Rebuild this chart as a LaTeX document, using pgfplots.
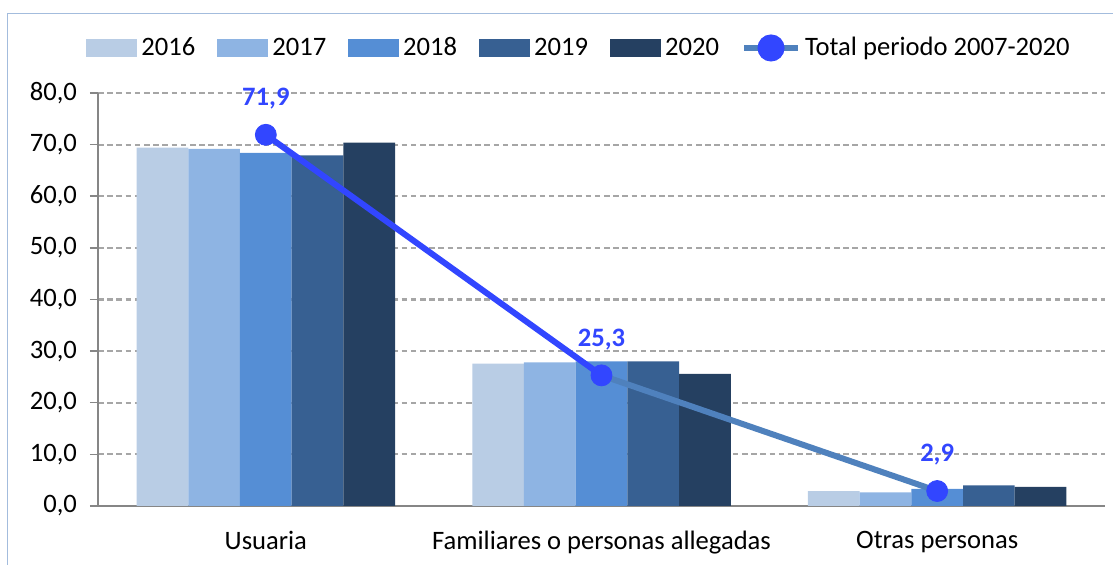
\documentclass[border=0pt]{standalone}
\usepackage{pgfplots}
\pgfplotsset{compat=1.18}
\usepackage{fontspec}
\setmainfont{Carlito}

\definecolor{c2016}{HTML}{B9CDE5}
\definecolor{c2017}{HTML}{8EB4E3}
\definecolor{c2018}{HTML}{558ED5}
\definecolor{c2019}{HTML}{376092}
\definecolor{c2020}{HTML}{254061}
\definecolor{brightblue}{HTML}{3246FF}
\definecolor{steelblue}{HTML}{4F81BD}
\definecolor{framec}{HTML}{A3BCDD}
\definecolor{axisgray}{HTML}{868686}
\definecolor{gridgray}{HTML}{A6A6A6}

\begin{document}
\begin{tikzpicture}
\useasboundingbox (-49pt,-29.5pt) rectangle (507.5pt,253pt);
\draw[framec, line width=0.8pt] (-45.25pt,-29.5pt) -- (-45.25pt,246.25pt) -- (507.5pt,246.25pt);
\begin{axis}[
    at={(0pt,0pt)}, anchor=south west,
    width=503.5pt, height=206.5pt, scale only axis,
    font=\fontsize{13.3}{16}\selectfont,
    xmin=-0.5, xmax=2.5,
    ymin=0, ymax=80,
    ytick={0,10,...,80},
    xtick={0,1,2},
    xticklabels={Usuaria, Familiares o personas allegadas, Otras personas},
    major x tick style={draw=none},
    extra x ticks={-0.5,0.5,1.5,2.5},
    extra x tick labels={},
    extra x tick style={major tick length=4pt, tick style={axisgray, line width=0.75pt}},
    axis x line*=bottom, axis y line*=left,
    axis line style={axisgray, line width=0.75pt},
    tick style={axisgray, line width=0.75pt},
    tick align=outside, major tick length=4pt,
    ymajorgrids,
    grid style={gridgray, line width=1.1pt, dash pattern=on 2.8pt off 1.8pt},
    xticklabel style={yshift=-5pt},
    yticklabel style={xshift=-3pt},
    yticklabel={\pgfmathprintnumber[fixed, fixed zerofill, precision=1, use comma, assume math mode=true]{\tick}},
    ybar=0pt, bar width=25.85pt,
    legend style={at={(0.4787,1.109)}, anchor=center, draw=none, fill=none,
        legend columns=-1, font=\fontsize{13.3}{16}\selectfont,
        /tikz/every even column/.append style={column sep=9pt}},
    legend image code/.code={\fill[#1] (0pt,-4.5pt) rectangle (25.5pt,4.5pt);},
]
\addplot[fill=c2016, draw=none] coordinates {(0,69.4) (1,27.6) (2,2.9)};
\addlegendentry{2016}
\addplot[fill=c2017, draw=none] coordinates {(0,69.2) (1,27.8) (2,2.65)};
\addlegendentry{2017}
\addplot[fill=c2018, draw=none] coordinates {(0,68.4) (1,28.0) (2,3.3)};
\addlegendentry{2018}
\addplot[fill=c2019, draw=none] coordinates {(0,67.9) (1,28.0) (2,4.0)};
\addlegendentry{2019}
\addplot[fill=c2020, draw=none] coordinates {(0,70.4) (1,25.6) (2,3.7)};
\addlegendentry{2020}

\addplot[sharp plot, steelblue, line width=3pt, no marks,
    legend image code/.code={
        \draw[steelblue, line width=3pt] (0pt,0pt) -- (27pt,0pt);
        \fill[brightblue] (13.5pt,0pt) circle (5.25pt);}]
    coordinates {(1,25.3) (2,2.9)};
\addlegendentry{Total periodo 2007-2020}
\addplot[sharp plot, brightblue, line width=3pt, no marks, forget plot]
    coordinates {(0,71.9) (1,25.3)};
\addplot[sharp plot, only marks, mark=*, mark size=5.25pt, bar shift=0pt,
    mark options={fill=brightblue, draw=brightblue}, forget plot,
    point meta=explicit symbolic,
    nodes near coords,
    every node near coord/.append style={anchor=center, xshift=0pt, yshift=18pt,
        text=brightblue, font=\fontsize{13.3}{16}\selectfont\bfseries}]
    coordinates {(0,71.9) [71,9] (1,25.3) [25,3] (2,2.9) [2,9]};
\end{axis}
\end{tikzpicture}
\end{document}
